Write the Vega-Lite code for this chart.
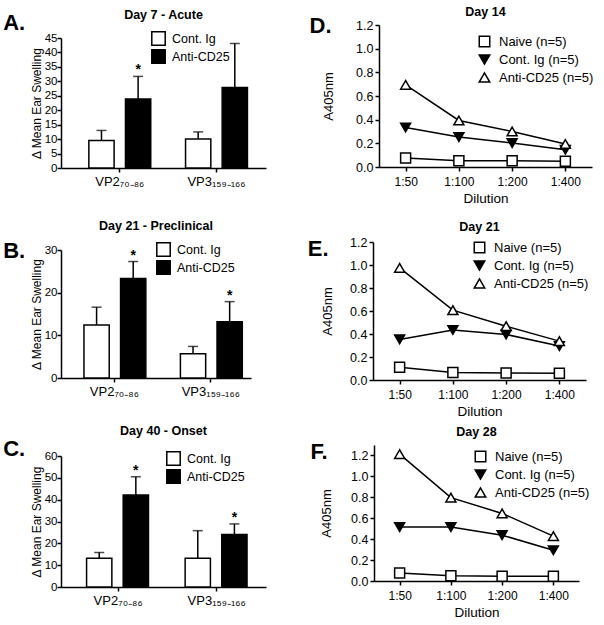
{
  "$schema": "https://vega.github.io/schema/vega-lite/v6.json",
  "padding": {"left": 3, "top": 5, "right": 2, "bottom": 0},
  "background": "white",
  "config": {
    "font": "Liberation Sans",
    "view": {"stroke": null},
    "axis": {"domainColor": "black", "domainWidth": 1.5, "tickColor": "black", "tickWidth": 1.5, "tickSize": 4, "labelColor": "black", "labelFontSize": 12, "labelPadding": 2, "titleColor": "black", "titleFontSize": 13, "titleFontWeight": "normal", "titlePadding": 4, "grid": false},
    "title": {"fontSize": 12.5, "fontWeight": "bold", "color": "black", "frame": "group"},
    "legend": {"labelColor": "black", "labelFont": "Liberation Sans"}
  },
  "datasets": {
    "A": [
      {"peptide": "VP2₇₀₋₈₆", "group": "Cont. Ig", "mean": 9.5, "upper": 13.0, "star": ""},
      {"peptide": "VP2₇₀₋₈₆", "group": "Anti-CD25", "mean": 23.9, "upper": 31.7, "star": "*"},
      {"peptide": "VP3₁₅₉₋₁₆₆", "group": "Cont. Ig", "mean": 10.0, "upper": 12.5, "star": ""},
      {"peptide": "VP3₁₅₉₋₁₆₆", "group": "Anti-CD25", "mean": 27.9, "upper": 43.1, "star": ""}
    ],
    "B": [
      {"peptide": "VP2₇₀₋₈₆", "group": "Cont. Ig", "mean": 12.4, "upper": 16.6, "star": ""},
      {"peptide": "VP2₇₀₋₈₆", "group": "Anti-CD25", "mean": 23.3, "upper": 27.3, "star": "*"},
      {"peptide": "VP3₁₅₉₋₁₆₆", "group": "Cont. Ig", "mean": 5.7, "upper": 7.4, "star": ""},
      {"peptide": "VP3₁₅₉₋₁₆₆", "group": "Anti-CD25", "mean": 13.2, "upper": 17.9, "star": "*"}
    ],
    "C": [
      {"peptide": "VP2₇₀₋₈₆", "group": "Cont. Ig", "mean": 13.2, "upper": 15.8, "star": ""},
      {"peptide": "VP2₇₀₋₈₆", "group": "Anti-CD25", "mean": 42.1, "upper": 50.5, "star": "*"},
      {"peptide": "VP3₁₅₉₋₁₆₆", "group": "Cont. Ig", "mean": 13.2, "upper": 25.8, "star": ""},
      {"peptide": "VP3₁₅₉₋₁₆₆", "group": "Anti-CD25", "mean": 24.0, "upper": 28.9, "star": "*"}
    ],
    "D": [
      {"dilution": "1:50", "group": "Naive (n=5)", "value": 0.076},
      {"dilution": "1:100", "group": "Naive (n=5)", "value": 0.053},
      {"dilution": "1:200", "group": "Naive (n=5)", "value": 0.053},
      {"dilution": "1:400", "group": "Naive (n=5)", "value": 0.048},
      {"dilution": "1:50", "group": "Cont. Ig (n=5)", "value": 0.334},
      {"dilution": "1:100", "group": "Cont. Ig (n=5)", "value": 0.253},
      {"dilution": "1:200", "group": "Cont. Ig (n=5)", "value": 0.202},
      {"dilution": "1:400", "group": "Cont. Ig (n=5)", "value": 0.146},
      {"dilution": "1:50", "group": "Anti-CD25 (n=5)", "value": 0.694},
      {"dilution": "1:100", "group": "Anti-CD25 (n=5)", "value": 0.393},
      {"dilution": "1:200", "group": "Anti-CD25 (n=5)", "value": 0.30},
      {"dilution": "1:400", "group": "Anti-CD25 (n=5)", "value": 0.194}
    ],
    "E": [
      {"dilution": "1:50", "group": "Naive (n=5)", "value": 0.11},
      {"dilution": "1:100", "group": "Naive (n=5)", "value": 0.066},
      {"dilution": "1:200", "group": "Naive (n=5)", "value": 0.061},
      {"dilution": "1:400", "group": "Naive (n=5)", "value": 0.058},
      {"dilution": "1:50", "group": "Cont. Ig (n=5)", "value": 0.353},
      {"dilution": "1:100", "group": "Cont. Ig (n=5)", "value": 0.435},
      {"dilution": "1:200", "group": "Cont. Ig (n=5)", "value": 0.396},
      {"dilution": "1:400", "group": "Cont. Ig (n=5)", "value": 0.295},
      {"dilution": "1:50", "group": "Anti-CD25 (n=5)", "value": 0.975},
      {"dilution": "1:100", "group": "Anti-CD25 (n=5)", "value": 0.607},
      {"dilution": "1:200", "group": "Anti-CD25 (n=5)", "value": 0.468},
      {"dilution": "1:400", "group": "Anti-CD25 (n=5)", "value": 0.338}
    ],
    "F": [
      {"dilution": "1:50", "group": "Naive (n=5)", "value": 0.077},
      {"dilution": "1:100", "group": "Naive (n=5)", "value": 0.051},
      {"dilution": "1:200", "group": "Naive (n=5)", "value": 0.045},
      {"dilution": "1:400", "group": "Naive (n=5)", "value": 0.045},
      {"dilution": "1:50", "group": "Cont. Ig (n=5)", "value": 0.515},
      {"dilution": "1:100", "group": "Cont. Ig (n=5)", "value": 0.515},
      {"dilution": "1:200", "group": "Cont. Ig (n=5)", "value": 0.438},
      {"dilution": "1:400", "group": "Cont. Ig (n=5)", "value": 0.294},
      {"dilution": "1:50", "group": "Anti-CD25 (n=5)", "value": 1.213},
      {"dilution": "1:100", "group": "Anti-CD25 (n=5)", "value": 0.797},
      {"dilution": "1:200", "group": "Anti-CD25 (n=5)", "value": 0.646},
      {"dilution": "1:400", "group": "Anti-CD25 (n=5)", "value": 0.429}
    ]
  },
  "spacing": 14,
  "resolve": {"scale": {"fill": "independent", "shape": "independent", "stroke": "independent"}, "legend": {"fill": "independent", "shape": "independent", "stroke": "independent"}},
  "vconcat": [
    {
      "spacing": 43,
      "resolve": {"scale": {"fill": "independent", "shape": "independent", "stroke": "independent"}, "legend": {"fill": "independent", "shape": "independent", "stroke": "independent"}},
      "hconcat": [
        {
          "title": {"text": "A.", "orient": "left", "anchor": "end", "angle": 0, "align": "left", "baseline": "top", "fontSize": 22, "fontWeight": "bold", "offset": 5, "dy": -12},
          "vconcat": [{
            "width": 205, "height": 143,
            "title": {"text": "Day 7 - Acute", "offset": 4},
            "data": {"name": "A"},
            "encoding": {
              "x": {"field": "peptide", "type": "nominal", "sort": ["VP2₇₀₋₈₆", "VP3₁₅₉₋₁₆₆"], "scale": {"paddingInner": 0.36, "paddingOuter": 0.24, "align": 0.6}, "axis": {"title": null, "labelAngle": 0, "labelFontSize": 13, "labelPadding": 3}},
              "xOffset": {"field": "group", "type": "nominal", "sort": ["Cont. Ig", "Anti-CD25"], "scale": {"paddingInner": 0.31, "paddingOuter": 0}}
            },
            "layer": [
              {"mark": {"type": "rule", "color": "black", "strokeWidth": 1.5}, "encoding": {"y": {"field": "mean", "type": "quantitative", "title": "Δ Mean Ear Swelling", "scale": {"domain": [0, 45], "nice": false, "range": [143, 13]}, "axis": {"values": [0, 5, 10, 15, 20, 25, 30, 35, 40, 45], "titleFontSize": 12, "labelFontSize": 11.5, "labelPadding": 0, "titlePadding": 1}}, "y2": {"field": "upper"}}},
              {"mark": {"type": "tick", "color": "black", "size": 10, "thickness": 1.5}, "encoding": {"y": {"field": "upper", "type": "quantitative", "title": "Δ Mean Ear Swelling", "scale": {"domain": [0, 45], "nice": false, "range": [143, 13]}, "axis": {"values": [0, 5, 10, 15, 20, 25, 30, 35, 40, 45], "titleFontSize": 12, "labelFontSize": 11.5, "labelPadding": 0, "titlePadding": 1}}}},
              {"mark": {"type": "bar", "stroke": "black", "strokeWidth": 1.5}, "encoding": {
                "y": {"field": "mean", "type": "quantitative", "title": "Δ Mean Ear Swelling", "scale": {"domain": [0, 45], "nice": false, "range": [143, 13]}, "axis": {"values": [0, 5, 10, 15, 20, 25, 30, 35, 40, 45], "titleFontSize": 12, "labelFontSize": 11.5, "labelPadding": 0, "titlePadding": 1}},
                "fill": {"field": "group", "type": "nominal", "scale": {"domain": ["Cont. Ig", "Anti-CD25"], "range": ["white", "black"]}, "legend": {"title": null, "orient": "none", "legendX": 90, "legendY": 6, "symbolType": "square", "symbolSize": 180, "symbolStrokeColor": "black", "symbolStrokeWidth": 1.5, "labelFontSize": 12.5, "labelOffset": 6, "rowPadding": -4}}
              }},
              {"mark": {"type": "text", "fontSize": 14, "fontWeight": "bold", "baseline": "alphabetic", "dy": -2}, "encoding": {"y": {"field": "upper", "type": "quantitative", "title": "Δ Mean Ear Swelling", "scale": {"domain": [0, 45], "nice": false, "range": [143, 13]}, "axis": {"values": [0, 5, 10, 15, 20, 25, 30, 35, 40, 45], "titleFontSize": 12, "labelFontSize": 11.5, "labelPadding": 0, "titlePadding": 1}}, "text": {"field": "star"}}}
            ]
          }]
        },
        {
          "title": {"text": "D.", "orient": "left", "anchor": "end", "angle": 0, "align": "left", "baseline": "top", "fontSize": 22, "fontWeight": "bold", "offset": 0, "dx": 9, "dy": -9},
          "vconcat": [{
            "width": 213, "height": 142,
            "title": {"text": "Day 14", "offset": 1},
            "data": {"name": "D"},
            "encoding": {
              "x": {"field": "dilution", "type": "nominal", "sort": ["1:50", "1:100", "1:200", "1:400"], "scale": {"type": "point", "padding": 0.5}, "axis": {"title": "Dilution", "labelAngle": 0, "titleFontSize": 13.5, "titlePadding": 4, "labelPadding": 5}},
              "y": {"field": "value", "type": "quantitative", "title": "A405nm", "scale": {"domain": [0, 1.2], "nice": false}, "axis": {"values": [0, 0.2, 0.4, 0.6, 0.8, 1, 1.2], "format": ".1f", "titlePadding": 20, "labelFontSize": 12.5}}
            },
            "layer": [
              {"mark": {"type": "line", "color": "black", "strokeWidth": 1.5}, "encoding": {"detail": {"field": "group"}}},
              {"mark": {"type": "point", "filled": true, "strokeWidth": 1.5, "size": 100, "opacity": 1}, "encoding": {
                "shape": {"field": "group", "type": "nominal", "scale": {"domain": ["Naive (n=5)", "Cont. Ig (n=5)", "Anti-CD25 (n=5)"], "range": ["square", "triangle-down", "triangle-up"]}, "legend": {"title": null, "orient": "none", "legendX": 99, "legendY": 10, "symbolSize": 110, "symbolStrokeWidth": 1.5, "symbolOpacity": 1, "labelFontSize": 13, "labelOffset": 8, "rowPadding": 1}},
                "fill": {"field": "group", "type": "nominal", "scale": {"domain": ["Naive (n=5)", "Cont. Ig (n=5)", "Anti-CD25 (n=5)"], "range": ["white", "black", "white"]}, "legend": {"title": null, "orient": "none", "legendX": 99, "legendY": 10, "symbolSize": 110, "symbolStrokeWidth": 1.5, "symbolOpacity": 1, "labelFontSize": 13, "labelOffset": 8, "rowPadding": 1}},
                "stroke": {"field": "group", "type": "nominal", "scale": {"domain": ["Naive (n=5)", "Cont. Ig (n=5)", "Anti-CD25 (n=5)"], "range": ["black", "black", "black"]}, "legend": {"title": null, "orient": "none", "legendX": 99, "legendY": 10, "symbolSize": 110, "symbolStrokeWidth": 1.5, "symbolOpacity": 1, "labelFontSize": 13, "labelOffset": 8, "rowPadding": 1}}
              }}
            ]
          }]
        }
      ]
    },
    {
      "spacing": 6,
      "resolve": {"scale": {"fill": "independent", "shape": "independent", "stroke": "independent"}, "legend": {"fill": "independent", "shape": "independent", "stroke": "independent"}},
      "vconcat": [
        {
          "spacing": 56,
          "resolve": {"scale": {"fill": "independent", "shape": "independent", "stroke": "independent"}, "legend": {"fill": "independent", "shape": "independent", "stroke": "independent"}},
          "hconcat": [
            {
              "title": {"text": "B.", "orient": "left", "anchor": "end", "angle": 0, "align": "left", "baseline": "top", "fontSize": 22, "fontWeight": "bold", "offset": 5, "dy": -1},
              "vconcat": [{
                "width": 190, "height": 136,
                "title": {"text": "Day 21 - Preclinical", "offset": 10},
                "data": {"name": "B"},
                "encoding": {
                  "x": {"field": "peptide", "type": "nominal", "sort": ["VP2₇₀₋₈₆", "VP3₁₅₉₋₁₆₆"], "scale": {"paddingInner": 0.37, "paddingOuter": 0.17, "align": 0.7}, "axis": {"title": null, "labelAngle": 0, "labelFontSize": 13, "labelPadding": 3}},
                  "xOffset": {"field": "group", "type": "nominal", "sort": ["Cont. Ig", "Anti-CD25"], "scale": {"paddingInner": 0.31, "paddingOuter": 0}}
                },
                "layer": [
                  {"mark": {"type": "rule", "color": "black", "strokeWidth": 1.5}, "encoding": {"y": {"field": "mean", "type": "quantitative", "title": "Δ Mean Ear Swelling", "scale": {"domain": [0, 30], "nice": false, "range": [136, 8]}, "axis": {"values": [0, 10, 20, 30], "titleFontSize": 12, "labelFontSize": 11.5, "labelPadding": 0, "titlePadding": 1}}, "y2": {"field": "upper"}}},
                  {"mark": {"type": "tick", "color": "black", "size": 10, "thickness": 1.5}, "encoding": {"y": {"field": "upper", "type": "quantitative", "title": "Δ Mean Ear Swelling", "scale": {"domain": [0, 30], "nice": false, "range": [136, 8]}, "axis": {"values": [0, 10, 20, 30], "titleFontSize": 12, "labelFontSize": 11.5, "labelPadding": 0, "titlePadding": 1}}}},
                  {"mark": {"type": "bar", "stroke": "black", "strokeWidth": 1.5}, "encoding": {
                    "y": {"field": "mean", "type": "quantitative", "title": "Δ Mean Ear Swelling", "scale": {"domain": [0, 30], "nice": false, "range": [136, 8]}, "axis": {"values": [0, 10, 20, 30], "titleFontSize": 12, "labelFontSize": 11.5, "labelPadding": 0, "titlePadding": 1}},
                    "fill": {"field": "group", "type": "nominal", "scale": {"domain": ["Cont. Ig", "Anti-CD25"], "range": ["white", "black"]}, "legend": {"title": null, "orient": "none", "legendX": 95, "legendY": 0, "symbolType": "square", "symbolSize": 180, "symbolStrokeColor": "black", "symbolStrokeWidth": 1.5, "labelFontSize": 12.5, "labelOffset": 6, "rowPadding": -4}}
                  }},
                  {"mark": {"type": "text", "fontSize": 14, "fontWeight": "bold", "baseline": "alphabetic", "dy": -2}, "encoding": {"y": {"field": "upper", "type": "quantitative", "title": "Δ Mean Ear Swelling", "scale": {"domain": [0, 30], "nice": false, "range": [136, 8]}, "axis": {"values": [0, 10, 20, 30], "titleFontSize": 12, "labelFontSize": 11.5, "labelPadding": 0, "titlePadding": 1}}, "text": {"field": "star"}}}
                ]
              }]
            },
            {
              "title": {"text": "E.", "orient": "left", "anchor": "end", "angle": 0, "align": "left", "baseline": "top", "fontSize": 22, "fontWeight": "bold", "offset": 0, "dx": 7, "dy": -3},
              "vconcat": [{
                "width": 213, "height": 138,
                "title": {"text": "Day 21", "offset": 3},
                "data": {"name": "E"},
                "encoding": {
                  "x": {"field": "dilution", "type": "nominal", "sort": ["1:50", "1:100", "1:200", "1:400"], "scale": {"type": "point", "padding": 0.5}, "axis": {"title": "Dilution", "labelAngle": 0, "titleFontSize": 13.5, "titlePadding": 4, "labelPadding": 5}},
                  "y": {"field": "value", "type": "quantitative", "title": "A405nm", "scale": {"domain": [0, 1.2], "nice": false}, "axis": {"values": [0, 0.2, 0.4, 0.6, 0.8, 1, 1.2], "format": ".1f", "titlePadding": 15, "labelFontSize": 12.5}}
                },
                "layer": [
                  {"mark": {"type": "line", "color": "black", "strokeWidth": 1.5}, "encoding": {"detail": {"field": "group"}}},
                  {"mark": {"type": "point", "filled": true, "strokeWidth": 1.5, "size": 100, "opacity": 1}, "encoding": {
                    "shape": {"field": "group", "type": "nominal", "scale": {"domain": ["Naive (n=5)", "Cont. Ig (n=5)", "Anti-CD25 (n=5)"], "range": ["square", "triangle-down", "triangle-up"]}, "legend": {"title": null, "orient": "none", "legendX": 100, "legendY": -1, "symbolSize": 110, "symbolStrokeWidth": 1.5, "symbolOpacity": 1, "labelFontSize": 13, "labelOffset": 8, "rowPadding": 1}},
                    "fill": {"field": "group", "type": "nominal", "scale": {"domain": ["Naive (n=5)", "Cont. Ig (n=5)", "Anti-CD25 (n=5)"], "range": ["white", "black", "white"]}, "legend": {"title": null, "orient": "none", "legendX": 100, "legendY": -1, "symbolSize": 110, "symbolStrokeWidth": 1.5, "symbolOpacity": 1, "labelFontSize": 13, "labelOffset": 8, "rowPadding": 1}},
                    "stroke": {"field": "group", "type": "nominal", "scale": {"domain": ["Naive (n=5)", "Cont. Ig (n=5)", "Anti-CD25 (n=5)"], "range": ["black", "black", "black"]}, "legend": {"title": null, "orient": "none", "legendX": 100, "legendY": -1, "symbolSize": 110, "symbolStrokeWidth": 1.5, "symbolOpacity": 1, "labelFontSize": 13, "labelOffset": 8, "rowPadding": 1}}
                  }}
                ]
              }]
            }
          ]
        },
        {
          "spacing": 44,
          "resolve": {"scale": {"fill": "independent", "shape": "independent", "stroke": "independent"}, "legend": {"fill": "independent", "shape": "independent", "stroke": "independent"}},
          "hconcat": [
            {
              "title": {"text": "C.", "orient": "left", "anchor": "end", "angle": 0, "align": "left", "baseline": "top", "fontSize": 22, "fontWeight": "bold", "offset": 5, "dy": -6},
              "vconcat": [{
                "width": 205, "height": 142,
                "title": {"text": "Day 40 - Onset", "offset": 8},
                "data": {"name": "C"},
                "encoding": {
                  "x": {"field": "peptide", "type": "nominal", "sort": ["VP2₇₀₋₈₆", "VP3₁₅₉₋₁₆₆"], "scale": {"paddingInner": 0.36, "paddingOuter": 0.22, "align": 0.59}, "axis": {"title": null, "labelAngle": 0, "labelFontSize": 13, "labelPadding": 3}},
                  "xOffset": {"field": "group", "type": "nominal", "sort": ["Cont. Ig", "Anti-CD25"], "scale": {"paddingInner": 0.31, "paddingOuter": 0}}
                },
                "layer": [
                  {"mark": {"type": "rule", "color": "black", "strokeWidth": 1.5}, "encoding": {"y": {"field": "mean", "type": "quantitative", "title": "Δ Mean Ear Swelling", "scale": {"domain": [0, 60], "nice": false, "range": [142, 11]}, "axis": {"values": [0, 10, 20, 30, 40, 50, 60], "titleFontSize": 12, "labelFontSize": 11.5, "labelPadding": 0, "titlePadding": 1}}, "y2": {"field": "upper"}}},
                  {"mark": {"type": "tick", "color": "black", "size": 10, "thickness": 1.5}, "encoding": {"y": {"field": "upper", "type": "quantitative", "title": "Δ Mean Ear Swelling", "scale": {"domain": [0, 60], "nice": false, "range": [142, 11]}, "axis": {"values": [0, 10, 20, 30, 40, 50, 60], "titleFontSize": 12, "labelFontSize": 11.5, "labelPadding": 0, "titlePadding": 1}}}},
                  {"mark": {"type": "bar", "stroke": "black", "strokeWidth": 1.5}, "encoding": {
                    "y": {"field": "mean", "type": "quantitative", "title": "Δ Mean Ear Swelling", "scale": {"domain": [0, 60], "nice": false, "range": [142, 11]}, "axis": {"values": [0, 10, 20, 30, 40, 50, 60], "titleFontSize": 12, "labelFontSize": 11.5, "labelPadding": 0, "titlePadding": 1}},
                    "fill": {"field": "group", "type": "nominal", "scale": {"domain": ["Cont. Ig", "Anti-CD25"], "range": ["white", "black"]}, "legend": {"title": null, "orient": "none", "legendX": 105, "legendY": 6, "symbolType": "square", "symbolSize": 180, "symbolStrokeColor": "black", "symbolStrokeWidth": 1.5, "labelFontSize": 12.5, "labelOffset": 6, "rowPadding": -4}}
                  }},
                  {"mark": {"type": "text", "fontSize": 14, "fontWeight": "bold", "baseline": "alphabetic", "dy": -2}, "encoding": {"y": {"field": "upper", "type": "quantitative", "title": "Δ Mean Ear Swelling", "scale": {"domain": [0, 60], "nice": false, "range": [142, 11]}, "axis": {"values": [0, 10, 20, 30, 40, 50, 60], "titleFontSize": 12, "labelFontSize": 11.5, "labelPadding": 0, "titlePadding": 1}}, "text": {"field": "star"}}}
                ]
              }]
            },
            {
              "title": {"text": "F.", "orient": "left", "anchor": "end", "angle": 0, "align": "left", "baseline": "top", "fontSize": 22, "fontWeight": "bold", "offset": 0, "dx": 7, "dy": -3},
              "vconcat": [{
                "width": 205, "height": 136,
                "title": {"text": "Day 28", "offset": 7},
                "data": {"name": "F"},
                "encoding": {
                  "x": {"field": "dilution", "type": "nominal", "sort": ["1:50", "1:100", "1:200", "1:400"], "scale": {"type": "point", "padding": 0.5}, "axis": {"title": "Dilution", "labelAngle": 0, "titleFontSize": 13.5, "titlePadding": 4, "labelPadding": 5}},
                  "y": {"field": "value", "type": "quantitative", "title": "A405nm", "scale": {"domain": [0, 1.3], "nice": false}, "axis": {"values": [0, 0.2, 0.4, 0.6, 0.8, 1, 1.2], "format": ".1f", "titlePadding": 17, "labelFontSize": 12.5}}
                },
                "layer": [
                  {"mark": {"type": "line", "color": "black", "strokeWidth": 1.5}, "encoding": {"detail": {"field": "group"}}},
                  {"mark": {"type": "point", "filled": true, "strokeWidth": 1.5, "size": 100, "opacity": 1}, "encoding": {
                    "shape": {"field": "group", "type": "nominal", "scale": {"domain": ["Naive (n=5)", "Cont. Ig (n=5)", "Anti-CD25 (n=5)"], "range": ["square", "triangle-down", "triangle-up"]}, "legend": {"title": null, "orient": "none", "legendX": 100, "legendY": 5, "symbolSize": 110, "symbolStrokeWidth": 1.5, "symbolOpacity": 1, "labelFontSize": 13, "labelOffset": 8, "rowPadding": 1}},
                    "fill": {"field": "group", "type": "nominal", "scale": {"domain": ["Naive (n=5)", "Cont. Ig (n=5)", "Anti-CD25 (n=5)"], "range": ["white", "black", "white"]}, "legend": {"title": null, "orient": "none", "legendX": 100, "legendY": 5, "symbolSize": 110, "symbolStrokeWidth": 1.5, "symbolOpacity": 1, "labelFontSize": 13, "labelOffset": 8, "rowPadding": 1}},
                    "stroke": {"field": "group", "type": "nominal", "scale": {"domain": ["Naive (n=5)", "Cont. Ig (n=5)", "Anti-CD25 (n=5)"], "range": ["black", "black", "black"]}, "legend": {"title": null, "orient": "none", "legendX": 100, "legendY": 5, "symbolSize": 110, "symbolStrokeWidth": 1.5, "symbolOpacity": 1, "labelFontSize": 13, "labelOffset": 8, "rowPadding": 1}}
                  }}
                ]
              }]
            }
          ]
        }
      ]
    }
  ]
}
